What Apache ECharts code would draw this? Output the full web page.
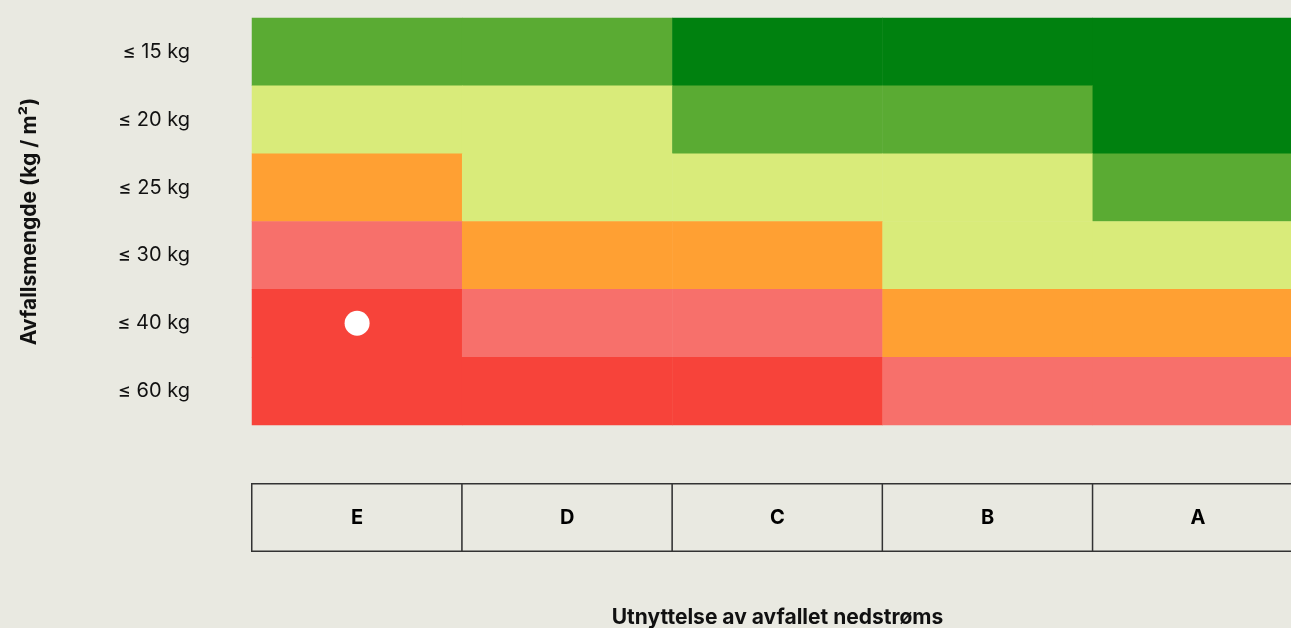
<!DOCTYPE html>
<html>
<head>
<meta charset="utf-8">
<script src="https://cdn.jsdelivr.net/npm/echarts@6/dist/echarts.min.js"></script>
<style>
  html, body { margin: 0; padding: 0; background: #e9e9e1; }
  #chart { width: 1291px; height: 628px; }
</style>
</head>
<body>
<div id="chart"></div>
<script>
// kolonner: utnyttelse av avfallet nedstrøms
const classes = ['E', 'D', 'C', 'B', 'A'];
// rader: avfallsmengde
const amounts = ['≤ 15 kg', '≤ 20 kg', '≤ 25 kg', '≤ 30 kg', '≤ 40 kg', '≤ 60 kg'];
// nivå per rad (1 = best / mørk grønn, 6 = dårligst / rød), kolonner E..A
const levels = [
  [2, 2, 1, 1, 1],
  [3, 3, 2, 2, 1],
  [4, 3, 3, 3, 2],
  [5, 4, 4, 3, 3],
  [6, 5, 5, 4, 4],
  [6, 6, 6, 5, 5]
];
const levelColors = ['#00810f', '#5aab33', '#d9eb7a', '#ffa033', '#f7706b', '#f7433a'];
// markert posisjon
const marker = [['E', '≤ 40 kg']];

const heatData = [];
levels.forEach((row, r) => {
  row.forEach((v, c) => {
    heatData.push([c, r, v]);
  });
});

const chart = echarts.init(document.getElementById('chart'));
const font = 'Inter, "Noto Sans", sans-serif';

chart.setOption({
  backgroundColor: '#e9e9e1',
  animation: false,
  grid: [
    { left: 252, width: 1051, top: 18, height: 407, outerBoundsMode: 'none', containLabel: false },
    { left: 252, width: 1051, top: 484, height: 67, outerBoundsMode: 'none', containLabel: false }
  ],
  xAxis: [
    {
      gridIndex: 0, type: 'category', data: classes,
      axisLine: { show: false }, axisTick: { show: false }, axisLabel: { show: false }
    },
    {
      gridIndex: 1, type: 'category', data: classes,
      axisLine: { show: false }, axisTick: { show: false }, axisLabel: { show: false },
      name: 'Utnyttelse av avfallet nedstrøms',
      nameLocation: 'middle', nameGap: 56,
      nameTextStyle: { fontFamily: font, fontSize: 21, fontWeight: 'bold', color: '#111' }
    }
  ],
  yAxis: [
    {
      gridIndex: 0, type: 'category', data: amounts, inverse: true,
      axisLine: { show: false }, axisTick: { show: false },
      axisLabel: { margin: 62, fontFamily: font, fontSize: 20, color: '#111' },
      name: 'Avfallsmengde (kg / m²)',
      nameLocation: 'middle', nameGap: 212,
      nameTextStyle: { fontFamily: font, fontSize: 21, fontWeight: 'bold', color: '#111' }
    },
    {
      gridIndex: 1, type: 'category', data: [''],
      axisLine: { show: false }, axisTick: { show: false }, axisLabel: { show: false }
    }
  ],
  visualMap: {
    show: false,
    type: 'piecewise',
    seriesIndex: 0,
    dimension: 2,
    pieces: levelColors.map((c, i) => ({ value: i + 1, color: c }))
  },
  series: [
    {
      type: 'heatmap',
      xAxisIndex: 0, yAxisIndex: 0,
      data: heatData,
      itemStyle: { borderWidth: 0 },
      emphasis: { disabled: true }
    },
    {
      type: 'heatmap',
      xAxisIndex: 1, yAxisIndex: 1,
      data: classes.map((c, i) => [i, 0, 1]),
      itemStyle: { color: '#e9e9e1', borderColor: '#333', borderWidth: 1.5 },
      label: {
        show: true,
        formatter: p => classes[p.data[0]],
        fontFamily: font, fontSize: 20, fontWeight: 'bold', color: '#000'
      },
      emphasis: { disabled: true }
    },
    {
      type: 'scatter',
      xAxisIndex: 0, yAxisIndex: 0,
      data: marker,
      symbolSize: 25,
      itemStyle: { color: '#ffffff', opacity: 1 },
      z: 5
    }
  ]
});
</script>
</body>
</html>
